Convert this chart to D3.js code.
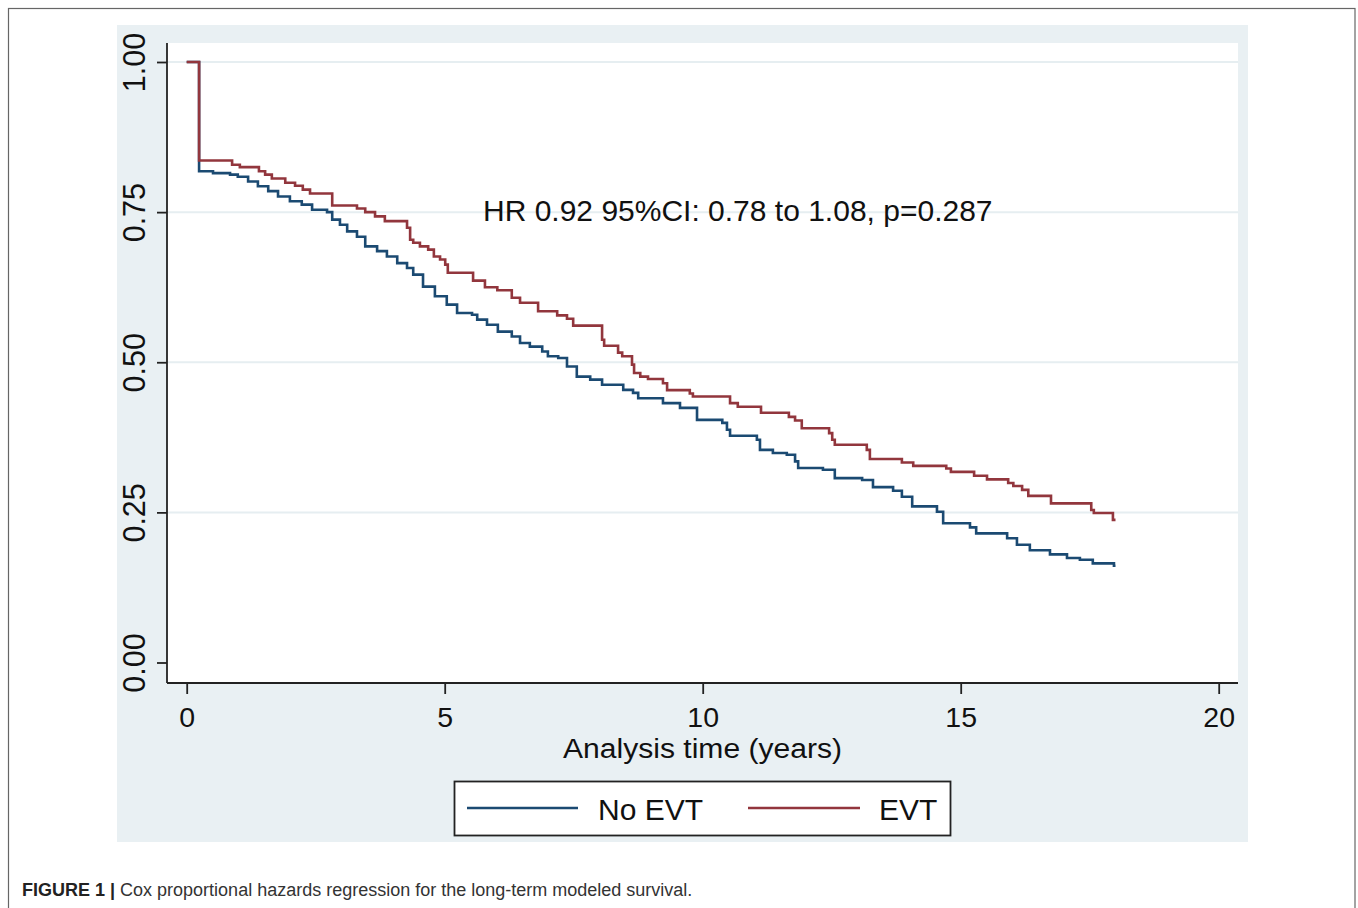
<!DOCTYPE html>
<html>
<head>
<meta charset="utf-8">
<script src="https://cdn.jsdelivr.net/npm/d3@7"></script>
<style>
  body { margin: 0; background: #fff; }
  svg { display: block; }
  .axis text { font-family: "Liberation Sans", Arial, sans-serif; font-size: 28.5px; fill: #111; }
  .axis line, .axis path { stroke: #222; stroke-width: 1.8px; }
</style>
</head>
<body>
<div id="chart"></div>
<script>
// time (years) and survival probability at each step
const evtTime = [0, 0.24, 0.88, 1.03, 1.40, 1.52, 1.65, 1.91, 2.10, 2.25, 2.39, 2.82, 3.30, 3.46, 3.65, 3.84, 3.98, 4.27, 4.33, 4.39, 4.52, 4.68, 4.79, 4.91, 5.01, 5.06, 5.55, 5.78, 6.02, 6.30, 6.46, 6.81, 7.18, 7.37, 7.49, 8.05, 8.09, 8.36, 8.44, 8.63, 8.67, 8.79, 8.94, 9.23, 9.31, 9.75, 9.81, 10.53, 10.68, 11.13, 11.67, 11.79, 11.92, 12.45, 12.51, 12.56, 13.18, 13.24, 13.86, 14.08, 14.72, 14.81, 15.26, 15.51, 15.92, 16.02, 16.19, 16.31, 16.75, 17.53, 17.58, 17.95, 18.0];
const evtSurv = [1.0, 0.836, 0.829, 0.825, 0.818, 0.8125, 0.806, 0.799, 0.794, 0.7875, 0.781, 0.761, 0.756, 0.750, 0.743, 0.735, 0.735, 0.724, 0.704, 0.699, 0.693, 0.6875, 0.676, 0.671, 0.6625, 0.649, 0.636, 0.625, 0.620, 0.6075, 0.599, 0.585, 0.578, 0.5725, 0.561, 0.5375, 0.5275, 0.516, 0.510, 0.496, 0.482, 0.476, 0.472, 0.465, 0.4535, 0.448, 0.443, 0.432, 0.426, 0.416, 0.409, 0.403, 0.390, 0.382, 0.371, 0.3625, 0.354, 0.339, 0.333, 0.3275, 0.323, 0.3175, 0.311, 0.305, 0.299, 0.294, 0.2875, 0.2775, 0.265, 0.254, 0.249, 0.2375, 0.2375];

const noEvtTime = [0, 0.24, 0.51, 0.84, 0.99, 1.19, 1.38, 1.58, 1.77, 2.00, 2.23, 2.43, 2.72, 2.82, 2.97, 3.11, 3.30, 3.46, 3.69, 3.88, 4.08, 4.27, 4.39, 4.58, 4.81, 5.04, 5.24, 5.53, 5.63, 5.82, 6.03, 6.30, 6.46, 6.65, 6.89, 7.00, 7.20, 7.37, 7.56, 7.82, 8.05, 8.46, 8.65, 8.75, 9.23, 9.56, 9.89, 10.38, 10.47, 10.53, 11.05, 11.11, 11.36, 11.63, 11.79, 11.85, 12.33, 12.56, 13.09, 13.30, 13.69, 13.86, 14.06, 14.54, 14.66, 15.18, 15.30, 15.90, 16.09, 16.34, 16.73, 17.06, 17.31, 17.56, 17.97, 18.0];
const noEvtSurv = [1.0, 0.818, 0.815, 0.8125, 0.809, 0.801, 0.793, 0.785, 0.776, 0.768, 0.7625, 0.754, 0.750, 0.7375, 0.729, 0.718, 0.709, 0.693, 0.685, 0.676, 0.665, 0.657, 0.646, 0.626, 0.610, 0.596, 0.582, 0.579, 0.571, 0.5625, 0.551, 0.543, 0.532, 0.526, 0.518, 0.510, 0.507, 0.493, 0.476, 0.471, 0.4625, 0.454, 0.449, 0.440, 0.432, 0.424, 0.404, 0.399, 0.3875, 0.3775, 0.371, 0.354, 0.349, 0.346, 0.335, 0.324, 0.321, 0.307, 0.304, 0.292, 0.286, 0.276, 0.260, 0.251, 0.232, 0.225, 0.215, 0.207, 0.196, 0.187, 0.180, 0.174, 0.171, 0.165, 0.161, 0.161];

const xTicks = [0, 5, 10, 15, 20];
const yTicks = [0, 0.25, 0.5, 0.75, 1];
const seriesNames = ["No EVT", "EVT"];
const seriesColors = ["#1b4a72", "#92363d"];
const annotation = "HR 0.92 95%CI: 0.78 to 1.08, p=0.287";
const xTitle = "Analysis time (years)";

const W = 1358, H = 908;
const font = '"Liberation Sans", Arial, sans-serif';
const svg = d3.select('#chart').append('svg').attr('width', W).attr('height', H);

// outer figure frame
svg.append('rect').attr('x', 8.5).attr('y', 8.5).attr('width', 1346.5).attr('height', 920)
  .attr('fill', 'none').attr('stroke', '#666').attr('stroke-width', 1.2);

// graph region
svg.append('rect').attr('x', 117).attr('y', 25).attr('width', 1131).attr('height', 817).attr('fill', '#e9f0f3');
const plot = {left: 167, right: 1238, top: 43, bottom: 683};
svg.append('rect').attr('x', plot.left).attr('y', plot.top)
  .attr('width', plot.right - plot.left).attr('height', plot.bottom - plot.top).attr('fill', '#fff');

const x = d3.scaleLinear().domain([0, 20]).range([186.7, 1218.7]);
const y = d3.scaleLinear().domain([0, 1]).range([662.5, 62]);

// grid
svg.append('g').selectAll('line').data(yTicks.filter(d => d > 0)).enter().append('line')
  .attr('x1', plot.left).attr('x2', plot.right)
  .attr('y1', d => y(d)).attr('y2', d => y(d))
  .attr('stroke', '#e6eef1').attr('stroke-width', 2);

// axes
const yAxis = svg.append('g').attr('class', 'axis').attr('transform', `translate(${plot.left},0)`)
  .call(d3.axisLeft(y).tickValues(yTicks).tickFormat(d3.format('.2f')).tickSize(10).tickPadding(8));
yAxis.select('.domain').remove();
yAxis.selectAll('.tick text')
  .attr('transform', 'rotate(-90)').attr('x', 0).attr('y', -22).attr('dy', 0)
  .attr('text-anchor', 'middle').style('font-size', '30.5px');
svg.append('line').attr('x1', plot.left).attr('x2', plot.left).attr('y1', plot.top).attr('y2', plot.bottom)
  .attr('stroke', '#222').attr('stroke-width', 1.8);

const xAxis = svg.append('g').attr('class', 'axis').attr('transform', `translate(0,${plot.bottom})`)
  .call(d3.axisBottom(x).tickValues(xTicks).tickSize(11).tickPadding(6));
xAxis.select('.domain').remove();
xAxis.selectAll('.tick text').attr('dy', 0).attr('y', 44);
svg.append('line').attr('x1', plot.left).attr('x2', plot.right).attr('y1', plot.bottom).attr('y2', plot.bottom)
  .attr('stroke', '#222').attr('stroke-width', 1.8);

svg.append('text').attr('x', 563).attr('y', 758)
  .attr('textLength', 279).attr('lengthAdjust', 'spacingAndGlyphs')
  .style('font-family', font).style('font-size', '27px').attr('fill', '#111')
  .text(xTitle);

// survival curves
const line = d3.line().x(d => x(d[0])).y(d => y(d[1])).curve(d3.curveStepAfter);
const series = [
  d3.zip(noEvtTime, noEvtSurv),
  d3.zip(evtTime, evtSurv)
];
svg.append('g').selectAll('path').data(series).enter().append('path')
  .attr('d', line).attr('fill', 'none')
  .attr('stroke', (d, i) => seriesColors[i]).attr('stroke-width', 2.6)
  .attr('stroke-linejoin', 'miter');

svg.append('text').attr('x', 483).attr('y', 221).style('font-family', font)
  .style('font-size', '30px').attr('fill', '#111').text(annotation);

// legend
const lg = svg.append('g');
lg.append('rect').attr('x', 454.5).attr('y', 781.5).attr('width', 496).attr('height', 54)
  .attr('fill', '#fff').attr('stroke', '#222').attr('stroke-width', 1.8);
const legX = [[467, 578, 598], [748, 860, 879]];
seriesNames.forEach((n, i) => {
  lg.append('line').attr('x1', legX[i][0]).attr('x2', legX[i][1]).attr('y1', 808).attr('y2', 808)
    .attr('stroke', seriesColors[i]).attr('stroke-width', 2.6);
  lg.append('text').attr('x', legX[i][2]).attr('y', 820)
    .style('font-family', font).style('font-size', '30px').attr('fill', '#111')
    .text(n);
});

// caption
const cap = svg.append('text').attr('x', 22).attr('y', 896)
  .style('font-family', '"Liberation Sans Narrow", "Arial Narrow", "Liberation Sans", sans-serif')
  .style('font-size', '18px').attr('fill', '#333');
cap.append('tspan').attr('font-weight', 'bold').attr('fill', '#222').text('FIGURE 1 | ');
cap.append('tspan').text('Cox proportional hazards regression for the long-term modeled survival.');
</script>
</body>
</html>
